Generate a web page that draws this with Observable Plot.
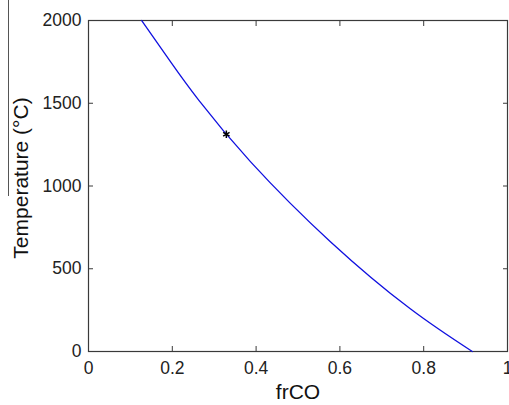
<!DOCTYPE html>
<html>
<head>
<meta charset="utf-8">
<script src="https://cdn.jsdelivr.net/npm/d3@7"></script>
<script src="https://cdn.jsdelivr.net/npm/@observablehq/plot@0.6"></script>
<style>
  html, body { margin: 0; padding: 0; background: #fff; }
  #wrap { position: relative; width: 509px; height: 405px; }
  #edge { position: absolute; left: 8px; top: 0; width: 1px; height: 196px; background: #555; }
  svg { font-family: "Liberation Sans", Arial, sans-serif; }
</style>
</head>
<body>
<div id="wrap"><div id="edge"></div></div>
<script>
const frCO = [0.127, 0.196, 0.263, 0.387, 0.578, 0.768, 0.916];
const temperature = [2000, 1750, 1519, 1146, 662, 258, 0];
const markerX = [0.329];
const markerY = [1313];
const xTicks = [0, 0.2, 0.4, 0.6, 0.8, 1];
const xTickLabels = ["0", "0.2", "0.4", "0.6", "0.8", "1"];
const yTicks = [0, 500, 1000, 1500, 2000];
const yTickLabels = ["0", "500", "1000", "1500", "2000"];

const curve = frCO.map((x, i) => ({x, y: temperature[i]}));
const marker = markerX.map((x, i) => ({x, y: markerY[i]}));
const axisColor = "#3a3a3a";

const chart = Plot.plot({
  width: 509,
  height: 405,
  marginLeft: 88,
  marginRight: 2,
  marginTop: 20,
  marginBottom: 54,
  style: {fontFamily: "Liberation Sans, Arial, sans-serif", background: "#fff"},
  x: {domain: [0, 1]},
  y: {domain: [0, 2000]},
  marks: [
    Plot.frame({stroke: axisColor, strokeWidth: 1.2}),
    Plot.axisX({ticks: xTicks, tickFormat: (d, i) => xTickLabels[i], tickSize: 0, tickPadding: 10, fontSize: 17.5, fill: "#222", label: null}),
    Plot.axisX({ticks: xTicks, tickSize: -5, fill: "none", stroke: axisColor, anchor: "bottom", label: null}),
    Plot.axisX({ticks: xTicks, tickSize: -5, fill: "none", stroke: axisColor, anchor: "top", label: null}),
    Plot.axisY({ticks: yTicks, tickFormat: (d, i) => yTickLabels[i], tickSize: 0, tickPadding: 7, fontSize: 17.5, fill: "#222", label: null}),
    Plot.axisY({ticks: yTicks, tickSize: -5, fill: "none", stroke: axisColor, anchor: "left", label: null}),
    Plot.axisY({ticks: yTicks, tickSize: -5, fill: "none", stroke: axisColor, anchor: "right", label: null}),
    Plot.text(["frCO"], {frameAnchor: "bottom", dy: 47, fontSize: 21, fill: "#111"}),
    Plot.text(["Temperature (°C)"], {frameAnchor: "left", textAnchor: "middle", dx: -67, dy: -8, rotate: -90, fontSize: 21, fill: "#111"}),
    Plot.line(curve, {x: "x", y: "y", stroke: "#1010e0", strokeWidth: 1.3, curve: "natural"}),
    Plot.dot(marker, {x: "x", y: "y", symbol: "asterisk", r: 3.5, stroke: "#000", strokeWidth: 1.5})
  ]
});
document.getElementById("wrap").appendChild(chart);
</script>
</body>
</html>
